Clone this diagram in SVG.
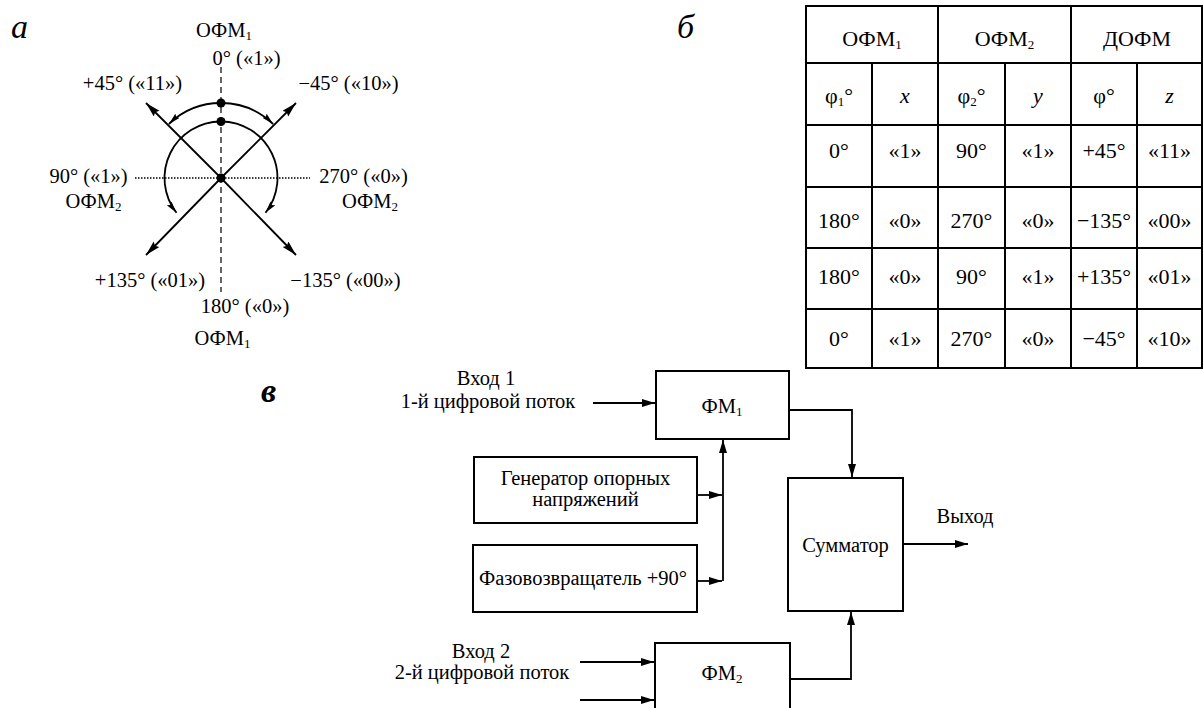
<svg xmlns="http://www.w3.org/2000/svg" width="1203" height="708" viewBox="0 0 1203 708" font-family="'Liberation Serif', 'Times New Roman', serif">
<style>
text{font-family:"Liberation Serif","Times New Roman",serif;fill:#000}
.a{font-size:20.5px;text-anchor:middle}
.t{font-size:22px;text-anchor:middle}
.b{font-size:20.5px;text-anchor:middle}
.lbl{font-size:34px;font-style:italic}
.ln{stroke:#000;stroke-width:1.8;fill:none}
.box{stroke:#000;stroke-width:2;fill:#fff}
.grid{stroke:#000;stroke-width:2;fill:none}
.sub{font-size:13px}
</style>
<defs>
<marker id="ah" markerUnits="userSpaceOnUse" markerWidth="14" markerHeight="10" refX="13" refY="4" orient="auto"><path d="M0,0 L13,4 L0,8 z" fill="#000"/></marker>
<marker id="ad" markerUnits="userSpaceOnUse" markerWidth="16" markerHeight="10" refX="15" refY="4" orient="auto"><path d="M0,0 L15,4 L0,8 L2,4 z" fill="#000"/></marker>
<marker id="aa" markerUnits="userSpaceOnUse" markerWidth="13" markerHeight="8" refX="12" refY="3" orient="auto"><path d="M0,0 L12,3 L0,6 L2,3 z" fill="#000"/></marker>
</defs>
<rect width="1203" height="708" fill="#fff"/>

<!-- Part a -->
<g id="part-a">
<text class="lbl" x="11" y="38">а</text>
<line x1="221" y1="67" x2="221" y2="292" stroke="#000" stroke-width="1.2" stroke-dasharray="6,4"/>
<line x1="135" y1="178" x2="310" y2="178" stroke="#000" stroke-width="1.3" stroke-dasharray="1.5,1.5"/>
<g class="ln">
<line x1="221" y1="178" x2="146" y2="103" marker-end="url(#ad)"/>
<line x1="221" y1="178" x2="296" y2="103" marker-end="url(#ad)"/>
<line x1="221" y1="178" x2="146" y2="255" marker-end="url(#ad)"/>
<line x1="221" y1="178" x2="296" y2="255" marker-end="url(#ad)"/>
<path d="M221 103 A75 75 0 0 0 168.9 124.0" marker-end="url(#aa)"/>
<path d="M221 103 A75 75 0 0 1 273.1 124.0" marker-end="url(#aa)"/>
<path d="M221 121.5 A56.5 56.5 0 0 0 176.5 212.8" marker-end="url(#aa)"/>
<path d="M221 121.5 A56.5 56.5 0 0 1 265.5 212.8" marker-end="url(#aa)"/>
</g>
<circle cx="221" cy="103" r="4.5"/>
<circle cx="221" cy="121.5" r="4.5"/>
<circle cx="221" cy="178" r="4.5"/>
<text class="a" x="224" y="37">ОФМ<tspan class="sub" dy="3">1</tspan></text>
<text class="a" x="246.5" y="65">0° («1»)</text>
<text class="a" x="132.5" y="90">+45° («11»)</text>
<text class="a" x="348.5" y="90">−45° («10»)</text>
<text class="a" x="88.5" y="183">90° («1»)</text>
<text class="a" x="363.5" y="183">270° («0»)</text>
<text class="a" x="93.5" y="208">ОФМ<tspan class="sub" dy="3">2</tspan></text>
<text class="a" x="370" y="208">ОФМ<tspan class="sub" dy="3">2</tspan></text>
<text class="a" x="150" y="287">+135° («01»)</text>
<text class="a" x="345.5" y="287">−135° («00»)</text>
<text class="a" x="245" y="313">180° («0»)</text>
<text class="a" x="222.5" y="345">ОФМ<tspan class="sub" dy="3">1</tspan></text>
</g>

<!-- Part b: table -->
<g id="part-b">
<text class="lbl" x="677" y="38">б</text>
<rect class="grid" x="806" y="6" width="396" height="362"/>
<g class="grid">
<line x1="806" y1="63" x2="1202" y2="63"/>
<line x1="806" y1="125" x2="1202" y2="125"/>
<line x1="806" y1="187" x2="1202" y2="187"/>
<line x1="806" y1="248" x2="1202" y2="248"/>
<line x1="806" y1="309" x2="1202" y2="309"/>
<line x1="938" y1="6" x2="938" y2="368"/>
<line x1="1071" y1="6" x2="1071" y2="368"/>
<line x1="872" y1="63" x2="872" y2="368"/>
<line x1="1005" y1="63" x2="1005" y2="368"/>
<line x1="1137" y1="63" x2="1137" y2="368"/>
</g>
<text class="t" x="872" y="46">ОФМ<tspan class="sub" dy="3">1</tspan></text>
<text class="t" x="1004.5" y="46">ОФМ<tspan class="sub" dy="3">2</tspan></text>
<text class="t" x="1137" y="46">ДОФМ</text>
<text class="t" x="839" y="103">φ<tspan class="sub" dy="3">1</tspan><tspan dy="-3">°</tspan></text>
<text class="t" x="905" y="103" font-style="italic">x</text>
<text class="t" x="971.5" y="103">φ<tspan class="sub" dy="3">2</tspan><tspan dy="-3">°</tspan></text>
<text class="t" x="1038" y="103" font-style="italic">y</text>
<text class="t" x="1104" y="103">φ°</text>
<text class="t" x="1169.5" y="103" font-style="italic">z</text>
<g>
<text class="t" x="839" y="158">0°</text><text class="t" x="905" y="158">«1»</text><text class="t" x="971.5" y="158">90°</text><text class="t" x="1038" y="158">«1»</text><text class="t" x="1104" y="158">+45°</text><text class="t" x="1169.5" y="158">«11»</text>
<text class="t" x="839" y="228">180°</text><text class="t" x="905" y="228">«0»</text><text class="t" x="971.5" y="228">270°</text><text class="t" x="1038" y="228">«0»</text><text class="t" x="1104" y="228">−135°</text><text class="t" x="1169.5" y="228">«00»</text>
<text class="t" x="839" y="284">180°</text><text class="t" x="905" y="284">«0»</text><text class="t" x="971.5" y="284">90°</text><text class="t" x="1038" y="284">«1»</text><text class="t" x="1104" y="284">+135°</text><text class="t" x="1169.5" y="284">«01»</text>
<text class="t" x="839" y="346">0°</text><text class="t" x="905" y="346">«1»</text><text class="t" x="971.5" y="346">270°</text><text class="t" x="1038" y="346">«0»</text><text class="t" x="1104" y="346">−45°</text><text class="t" x="1169.5" y="346">«10»</text>
</g>
</g>

<!-- Part v: block diagram -->
<text class="lbl" x="261" y="402" font-size="30" font-weight="bold">в</text>
<g id="fm1">
<rect class="box" x="656" y="371" width="133" height="68"/>
<text class="b" x="722" y="413">ФМ<tspan class="sub" dy="3">1</tspan></text>
</g>
<g id="gen">
<rect class="box" x="474" y="457" width="223" height="66"/>
<text class="b" x="585.5" y="485">Генератор опорных</text>
<text class="b" x="585.5" y="506">напряжений</text>
</g>
<g id="phase">
<rect class="box" x="473" y="545" width="224" height="67"/>
<text class="b" x="583" y="585">Фазовозвращатель +90°</text>
</g>
<g id="sum">
<rect class="box" x="788" y="478" width="115" height="133"/>
<text class="b" x="845.5" y="552">Сумматор</text>
</g>
<g id="fm2">
<rect class="box" x="655" y="643" width="135" height="75"/>
<text class="b" x="722" y="680">ФМ<tspan class="sub" dy="3">2</tspan></text>
</g>
<g id="labels">
<text class="b" x="486" y="385">Вход 1</text>
<text class="b" x="488" y="408">1-й цифровой поток</text>
<text class="b" x="481" y="658">Вход 2</text>
<text class="b" x="482" y="679">2-й цифровой поток</text>
<text class="b" x="965" y="523">Выход</text>
</g>
<g id="connectors" class="ln">
<path d="M593 403 H655" marker-end="url(#ah)"/>
<path d="M789 410 H852 V477" marker-end="url(#ah)"/>
<path d="M697 495 H722" marker-end="url(#ah)"/>
<path d="M697 581 H722" marker-end="url(#ah)"/>
<path d="M723 581 V440" marker-end="url(#ah)"/>
<path d="M903 544 H968" marker-end="url(#ah)"/>
<path d="M790 679 H851 V612" marker-end="url(#ah)"/>
<path d="M580 662 H654" marker-end="url(#ah)"/>
<path d="M580 700 H654" marker-end="url(#ah)"/>
</g>
</svg>
